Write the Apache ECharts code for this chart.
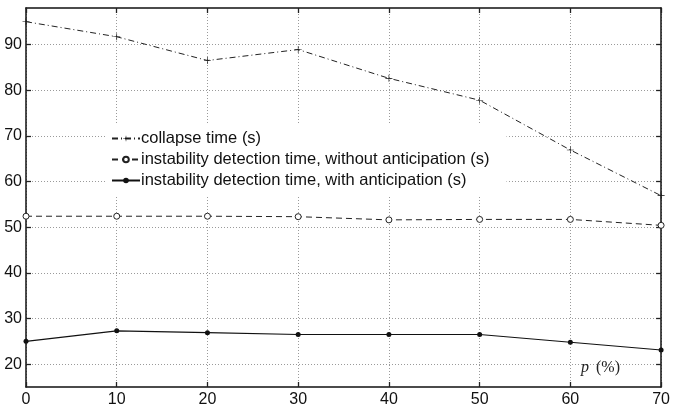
<!DOCTYPE html>
<html><head><meta charset="utf-8">
<script src="https://cdn.jsdelivr.net/npm/echarts@6/dist/echarts.min.js"></script>
<style>html,body{margin:0;padding:0;background:#fff}#c{width:673px;height:409px}</style>
</head><body><div id="c"></div>
<script>
var pValues = [0, 10, 20, 30, 40, 50, 60, 70];
var collapseTime = [95.0, 91.7, 86.5, 88.9, 82.6, 77.8, 66.9, 56.9];
var detectNoAnticip = [52.4, 52.4, 52.4, 52.3, 51.6, 51.7, 51.7, 50.4];
var detectAnticip = [25.0, 27.3, 26.9, 26.5, 26.5, 26.5, 24.8, 23.1];
var yTicks = [20, 30, 40, 50, 60, 70, 80, 90];
var seriesNames = ['collapse time (s)', 'instability detection time, without anticipation (s)', 'instability detection time, with anticipation (s)'];

function pairs(vals){ return pValues.map(function(p,i){ return [p, vals[i]]; }); }

var font = 'Liberation Sans, Arial, sans-serif';
var ink = '#111';
var gridLine = {show:true, lineStyle:{color:'#9a9a9a', type:[1,2], width:1}};
function ticks(extra){ var t = {show:true, inside:true, length:5, lineStyle:{color:'#222', width:1.3}}; return Object.assign(t, extra||{}); }
var plusSym = 'path://M-1,-0.09H1V0.09H-1Z M-0.09,-1H0.09V1H-0.09Z';

var chart = echarts.init(document.getElementById('c'), null, {renderer:'canvas'});
chart.setOption({
  animation:false,
  backgroundColor:'#fff',
  grid:{left:26, right:8, top:8, bottom:22, containLabel:false},
  xAxis:[
    {type:'value', min:0, max:70, interval:10, position:'bottom',
     axisLine:{show:true, onZero:false, lineStyle:{color:ink, width:1.5}},
     axisTick:ticks(),
     axisLabel:{color:ink, fontSize:16, fontFamily:font, margin:5, showMinLabel:true, showMaxLabel:true},
     splitLine:gridLine},
    {type:'value', min:0, max:70, interval:10, position:'top', show:true,
     axisLine:{show:true, onZero:false, lineStyle:{color:ink, width:1.5}},
     axisTick:ticks(),
     axisLabel:{show:false}, splitLine:{show:false}}
  ],
  yAxis:[
    {type:'value', min:15, max:98, position:'left',
     axisLine:{show:true, onZero:false, lineStyle:{color:ink, width:1.5}},
     axisTick:ticks({customValues:yTicks}),
     axisLabel:{color:ink, fontSize:16, fontFamily:font, margin:4, customValues:yTicks},
     splitLine:gridLine},
    {type:'value', min:15, max:98, position:'right', show:true,
     axisLine:{show:true, onZero:false, lineStyle:{color:ink, width:1.5}},
     axisTick:ticks({customValues:yTicks}),
     axisLabel:{show:false, customValues:yTicks}, splitLine:{show:false}}
  ],
  legend:{
    show:true, orient:'vertical', left:105, top:123,
    padding:[7,17,7,6], itemGap:4, itemWidth:28, itemHeight:7,
    backgroundColor:'#fff',
    textStyle:{color:ink, fontSize:16.5, fontFamily:font, padding:[0,0,0,-4]},
    data:seriesNames
  },
  series:[
    {name:seriesNames[0], type:'line', data:pairs(collapseTime), xAxisIndex:0, yAxisIndex:0,
     symbol:plusSym, symbolSize:7, showAllSymbol:true, z:3,
     lineStyle:{color:'#222', width:1, type:[6,3,1,3]},
     itemStyle:{color:'#111', borderWidth:0}},
    {name:seriesNames[1], type:'line', data:pairs(detectNoAnticip), xAxisIndex:0, yAxisIndex:0,
     symbol:'circle', symbolSize:6, showAllSymbol:true, z:3,
     lineStyle:{color:'#222', width:1, type:[6,4]},
     itemStyle:{color:'#fff', borderColor:'#222', borderWidth:1}},
    {name:seriesNames[2], type:'line', data:pairs(detectAnticip), xAxisIndex:0, yAxisIndex:0,
     symbol:'circle', symbolSize:5, showAllSymbol:true, z:3,
     lineStyle:{color:'#111', width:1.2, type:'solid'},
     itemStyle:{color:'#111'}}
  ],
  graphic:[
    {type:'text', left:581, top:360, z:10,
     style:{text:'{p|p}{r|(%)}', rich:{
       p:{fontFamily:'Liberation Serif, serif', fontStyle:'italic', fontSize:16, fill:'#222', padding:[0,7,0,0]},
       r:{fontFamily:'Liberation Serif, serif', fontSize:16, fill:'#222'}}}}
  ]
});
</script></body></html>
